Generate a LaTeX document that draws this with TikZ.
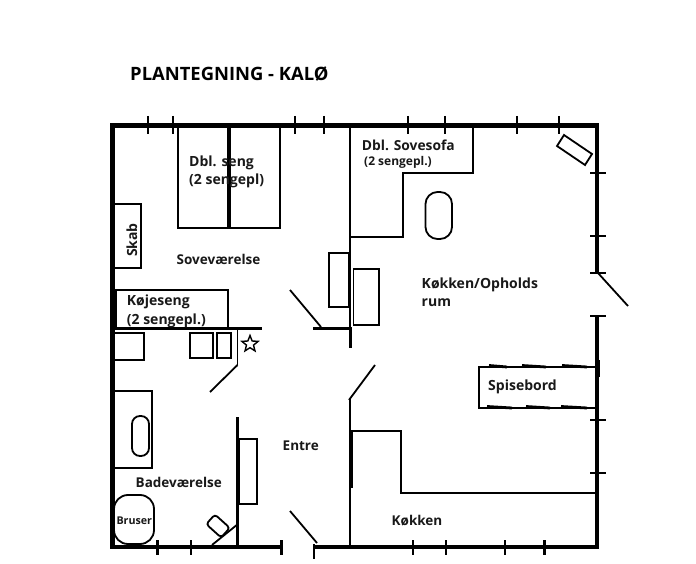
\documentclass[tikz,border=0pt]{standalone}
\usepackage{fontspec}
\setmainfont{Open Sans}
\usetikzlibrary{shapes.geometric}
\tikzset{
  wall/.style={line width=4.5pt},
  midwall/.style={line width=3pt},
  thin wall/.style={line width=1.7pt},
  furn/.style={line width=1.8pt},
  tick/.style={line width=2.6pt},
  lbl/.style={anchor=base west,inner sep=0pt,font=\bfseries\fontsize{14}{16}\selectfont,text=black!90},
  lblb/.style={lbl,font=\bfseries\fontsize{13.5}{16}\selectfont},
}
\begin{document}
\begin{tikzpicture}[x=1pt,y=-1pt,line join=miter]
\useasboundingbox (0,0) rectangle (696,564);
\fill[white] (0,0) rectangle (696,564);
% outer walls
\draw[wall] (282,547) -- (112.5,547) -- (112.5,125.5) -- (597,125.5) -- (597,273);
\draw[wall] (597,316) -- (597,547) -- (314,547);
% ticks
\foreach \x in {148,173,295,324,408,445,517,559} \draw[tick] (\x,116) -- (\x,134);
\foreach \x in {157.5,191,413,446,505,544.5} \draw[tick] (\x,540) -- (\x,555);
\draw[tick] (281.5,540) -- (281.5,555);
\draw[tick] (314,544) -- (314,559);
\foreach \y in {173,236,273,316,420,473} \draw[tick] (590,\y) -- (606,\y);
\draw[line width=4.5pt] (598,360) -- (598,377);
% doors
\draw[furn] (598,273) -- (628,306);
\draw[furn] (290,511) -- (317,543);
\draw[furn] (290,290) -- (321,327);
\draw[furn] (349,400) -- (375,365);
\draw[furn] (237.5,365) -- (210,392);
% interior walls
\draw[thin wall] (350,126) -- (350,330);
\draw[midwall] (350,327) -- (350,348);
\draw[thin wall] (350,399) -- (350,547);
\draw[line width=3.6pt] (351,430) -- (351,488);
\draw[midwall] (113,328) -- (262,328);
\draw[midwall] (313,328) -- (350,328);
\draw[thin wall] (237.5,328) -- (237.5,365);
\draw[midwall] (237.5,417) -- (237.5,547);
% sofa alcove
\draw[thin wall] (473,126) -- (473,173) -- (403,173) -- (403,237) -- (350,237);
% kitchen
\draw[thin wall] (351,431) -- (401,431) -- (401,493) -- (597,493);
% bed
\draw[furn] (178,126) rectangle (280,228);
\draw[line width=3.6pt] (229,126) -- (229,228);
% cupboards etc.
\draw[furn] (113,204) rectangle (141,268);
\draw[furn] (115,290) -- (228,290) -- (228,328);
\draw[midwall] (115,290) -- (115,328);
\draw[furn] (329,253) rectangle (349,307);
\draw[furn] (353.5,269) rectangle (379,325);
\draw[furn,rounded corners=12pt] (425.5,192) rectangle (452,239);
\draw[furn] (564,135) -- (592,154) -- (585,165) -- (557,146) -- cycle;
% bathroom
\draw[furn] (113,333) rectangle (144,360);
\draw[line width=2.4pt] (190,333) rectangle (213,358);
\draw[furn] (217,333) rectangle (231,358);
\node[star,star points=5,star point ratio=2.3,draw,line width=1.4pt,minimum size=17pt,inner sep=0pt] (star) at (250,344) {};
\draw[furn] (113,391) -- (152,391) -- (152,468) -- (113,468);
\draw[furn,rounded corners=8pt] (132,416) rectangle (149,456);
\draw[furn] (239,439) rectangle (257,504);
\draw[furn,rounded corners=14pt] (114,495) rectangle (154,544);
\draw[furn,rounded corners=3pt,rotate around={-42:(218,526)}] (208,519.5) rectangle (228,532.5);
\draw[furn] (212,545) -- (238,524);
% dining table
\draw[furn] (597,367) -- (479,367) -- (479,408) -- (597,408);
\foreach \a/\b in {489/507,522/546,562/587} \draw[line width=2.8pt] (\a,365.5) -- (\b,367);
\foreach \a/\b in {487/512,526/550,561/587} \draw[line width=2.8pt] (\a,406.5) -- (\b,408);
% texts
\node[anchor=base west,inner sep=0pt,font=\bfseries\fontsize{18.4}{20}\selectfont] (title) at (130,81) {PLANTEGNING - KALØ};
\node[lbl] (bed1) at (189,166.5) {Dbl. seng};
\node[lbl] (bed2) at (189,185) {(2 sengepl)};
\node[lbl,rotate=90,anchor=base] (skab) at (137,240) {Skab};
\node[lblb] (sove) at (176.5,265) {Soveværelse};
\node[lbl] (koj1) at (126.7,305) {Køjeseng};
\node[lbl] (koj2) at (126.7,324) {(2 sengepl.)};
\node[lbl,font=\bfseries\fontsize{13.8}{16}\selectfont] (sofa1) at (361.7,150.7) {Dbl. Sovesofa};
\node[lbl,font=\bfseries\fontsize{12}{14}\selectfont] (sofa2) at (364,166) {(2 sengepl.)};
\node[lbl] (kok1) at (421.5,288.3) {Køkken/Opholds};
\node[lbl] (kok2) at (421.5,306.7) {rum};
\node[lbl] (spis) at (488,390) {Spisebord};
\node[lblb] (entre) at (282.5,450) {Entre};
\node[lblb] (bad) at (135.5,487.7) {Badeværelse};
\node[lbl,font=\bfseries\fontsize{10.7}{13}\selectfont] (brus) at (116.3,524) {Bruser};
\node[lblb] (kokken) at (391.5,525) {Køkken};
\end{tikzpicture}
\end{document}
